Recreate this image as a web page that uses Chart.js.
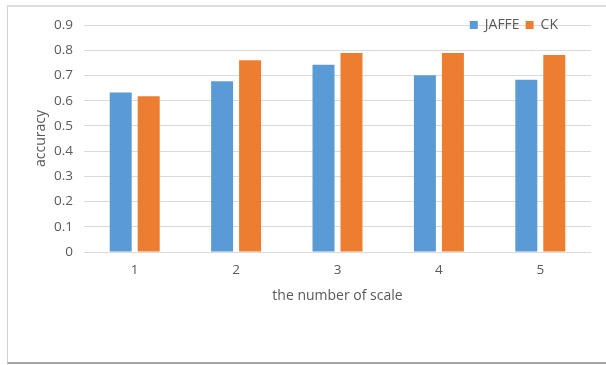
<!DOCTYPE html>
<html>
<head>
<meta charset="utf-8">
<script src="https://cdn.jsdelivr.net/npm/chart.js@4/dist/chart.umd.min.js"></script>
<style>
  html, body { margin: 0; padding: 0; background: #fff; }
  body { width: 606px; height: 365px; position: relative; overflow: hidden; }
  #frame {
    position: absolute; left: 7px; top: 5px; width: 620px; height: 359px;
    border-left: 1px solid #d0d0d0; border-top: 2px solid #dcdcdc;
    border-bottom: 2px solid #a6a6a6; box-sizing: border-box;
  }
  #wrap { position: absolute; left: 0; top: 0; width: 606px; height: 365px; }
</style>
</head>
<body>
<div id="frame"></div>
<div id="wrap"><canvas id="chart" width="606" height="365"></canvas></div>
<script>
// Recognition accuracy per number of scales, for two face datasets
const categories = ['1', '2', '3', '4', '5'];
const jaffeValues = [0.632, 0.677, 0.742, 0.701, 0.683];
const ckValues = [0.618, 0.760, 0.789, 0.789, 0.781];
const yTicks = [0, 0.1, 0.2, 0.3, 0.4, 0.5, 0.6, 0.7, 0.8, 0.9];

const textColor = '#595959';
const gridColor = '#d9d9d9';
const fontFamily = '"Open Sans", "Noto Sans", sans-serif';

// Keep the legend on the top gridline, right-aligned inside the plot
const legendPlacement = {
  id: 'legendPlacement',
  afterLayout(chart) {
    const lg = chart.legend;
    if (!lg) return;
    const area = chart.chartArea;
    lg.top = area.top - 13;
    lg.bottom = lg.top + lg.height;
    lg.right = area.right - 27;
  }
};

new Chart(document.getElementById('chart'), {
  type: 'bar',
  data: {
    labels: categories,
    datasets: [
      { label: 'JAFFE', data: jaffeValues, backgroundColor: '#5b9bd5' },
      { label: 'CK', data: ckValues, backgroundColor: '#ed7d31' }
    ]
  },
  options: {
    responsive: false,
    animation: false,
    devicePixelRatio: 1,
    layout: { padding: { left: 33, right: 15, top: -5, bottom: 53 } },
    datasets: {
      bar: { categoryPercentage: 0.552, barPercentage: 0.786 }
    },
    plugins: {
      tooltip: { enabled: false },
      legend: {
        position: 'top',
        align: 'end',
        labels: {
          color: textColor,
          font: { family: fontFamily, size: 14 },
          boxWidth: 8,
          boxHeight: 8,
          padding: 6
        }
      }
    },
    scales: {
      x: {
        grid: { display: false, drawTicks: false },
        border: { display: false },
        ticks: { color: textColor, font: { family: fontFamily, size: 13.5 }, padding: 10 },
        title: {
          display: true, text: 'the number of scale', color: textColor,
          font: { family: fontFamily, size: 14 }, padding: { top: 0, bottom: 8 }
        },
        afterFit(scale) { scale.height = 60; }
      },
      y: {
        min: 0,
        max: 0.9,
        grid: { color: gridColor, lineWidth: 1, drawTicks: false },
        border: { display: false },
        afterBuildTicks(scale) { scale.ticks = yTicks.map(v => ({ value: v })); },
        ticks: {
          color: textColor, font: { family: fontFamily, size: 13.5 }, padding: 11,
          callback: (v) => String(Math.round(v * 10) / 10)
        },
        title: {
          display: true, text: 'accuracy', color: textColor,
          font: { family: fontFamily, size: 14 }, padding: { top: 0, bottom: 0 }
        },
        afterFit(scale) { scale.width = 51; }
      }
    }
  },
  plugins: [legendPlacement]
});
</script>
</body>
</html>
